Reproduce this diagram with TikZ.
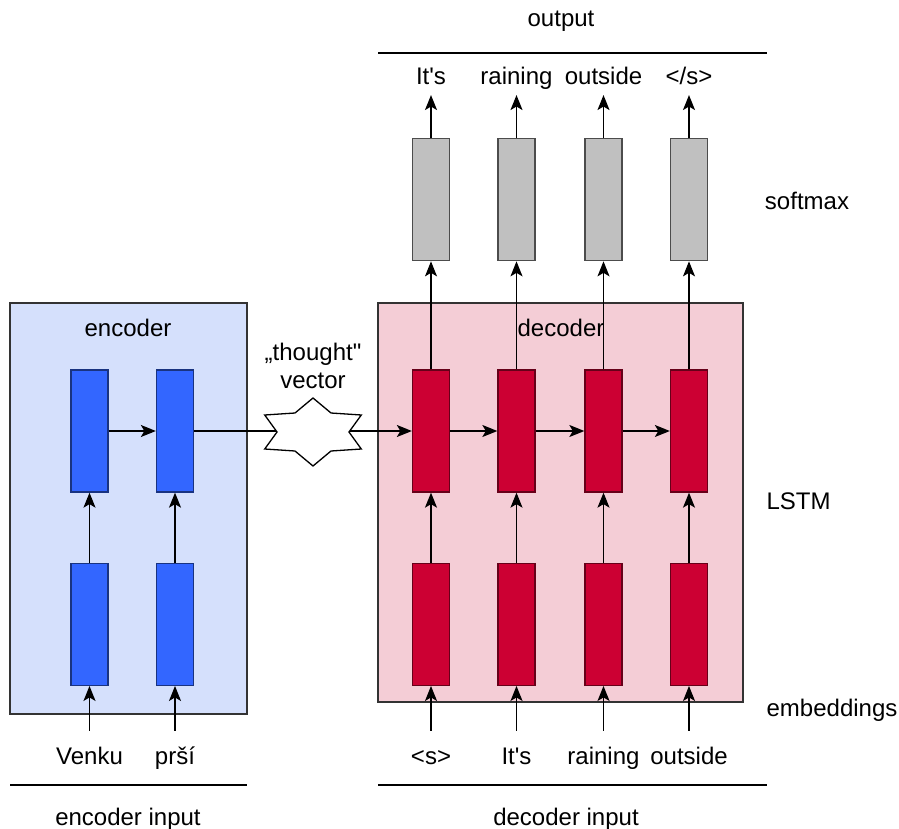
\documentclass[tikz,border=0pt]{standalone}
\usepackage{fontspec}
\setmainfont{Liberation Sans}
\usetikzlibrary{positioning}
\usetikzlibrary{shapes.geometric,arrows.meta}
\definecolor{encfill}{RGB}{213,224,252}
\definecolor{decfill}{RGB}{244,205,214}
\definecolor{encblue}{RGB}{51,102,255}
\definecolor{decred}{RGB}{204,0,51}
\definecolor{softgray}{RGB}{192,192,192}

\begin{document}
\begin{tikzpicture}[x=1pt, y=-1pt, line width=1.3pt,
	font=\fontsize{24}{28}\selectfont,
	flow/.style = {-{Stealth[length=15pt,width=12pt,inset=3.5pt]}},
	panel/.style = {draw=black!80, fill=#1, inner sep=0},
	block/.style = {draw, inner sep=0, minimum width=37pt, minimum height=122pt},
	encblock/.style = {block, draw=encblue!50!black, fill=encblue},
	decblock/.style = {block, draw=decred!50!black, fill=decred},
	softblock/.style = {block, draw=black!70, fill=softgray},
	txt/.style = {anchor=base, inner sep=0},
	inword/.style = {text height=17pt, text depth=5pt, inner xsep=0, inner ysep=16pt},
	outword/.style = {text height=17pt, text depth=5pt, inner xsep=0, inner ysep=5pt},
	rule/.style = {line width=1.6pt}]
	\useasboundingbox (0,0) rectangle (899,829);
	% panels
	\node[panel=encfill, minimum width=237pt, minimum height=411pt] (encpanel) at (128.5,508.5) {};
	\node[panel=decfill, minimum width=365pt, minimum height=399pt] (decpanel) at (560.5,502.5) {};
	\node[txt] (enctitle) at (128,336) {encoder};
	\node[txt] (dectitle) at (561,336) {decoder};
	% encoder
	\node[encblock] (e1) at (89.5,431) {};
	\node[encblock] (e2) at (175,431) {};
	\node[encblock] (x1) [below=70pt of e1] {};
	\node[encblock] (x2) [below=70pt of e2] {};
	\node[inword] (v1) [below=45pt of x1] {Venku};
	\node[inword] (v2) [below=45pt of x2] {prší};
	% decoder
	\node[decblock] (d1) at (431,431) {};
	\node[decblock] (d2) at (516.5,431) {};
	\node[decblock] (d3) at (603.5,431) {};
	\node[decblock] (d4) at (689,431) {};
	\node[decblock] (y1) [below=70pt of d1] {};
	\node[decblock] (y2) [below=70pt of d2] {};
	\node[decblock] (y3) [below=70pt of d3] {};
	\node[decblock] (y4) [below=70pt of d4] {};
	\node[softblock] (s1) [above=108pt of d1] {};
	\node[softblock] (s2) [above=108pt of d2] {};
	\node[softblock] (s3) [above=108pt of d3] {};
	\node[softblock] (s4) [above=108pt of d4] {};
	\node[inword] (i1) [below=45pt of y1] {<s>};
	\node[inword] (i2) [below=45pt of y2] {It\textquotesingle s};
	\node[inword] (i3) [below=45pt of y3] {raining};
	\node[inword] (i4) [below=45pt of y4] {outside};
	\node[outword] (o1) [above=43pt of s1] {It\textquotesingle s};
	\node[outword] (o2) [above=43pt of s2] {raining};
	\node[outword] (o3) [above=43pt of s3] {outside};
	\node[outword] (o4) [above=43pt of s4] {</s>};
	% side labels
	\node[txt] (outlbl) at (561,27) {output};
	\node[txt] (softlbl) at (807,210) {softmax};
	\node[txt] (lstmlbl) at (798.5,509) {LSTM};
	\node[txt] (emblbl) at (832,716) {embeddings};
	\node[txt] (encin) at (128,825) {encoder input};
	\node[txt] (decin) at (566,825) {decoder input};
	\node[align=center, inner sep=0] (thoughtlbl) at (313,366) {„thought\textquotedbl\\vector};
	\draw[rule] (378,53) -- (767,53);
	\draw[rule] (378,785) -- (767,785);
	\draw[rule] (10,785) -- (247,785);
	% connectors
	\draw[flow] (v1) -- (x1);
	\draw[flow] (v2) -- (x2);
	\draw[flow] (x1) -- (e1);
	\draw[flow] (x2) -- (e2);
	\draw[flow] (e1) -- (e2);
	\draw[flow] (e2) -- (d1);
	\node[star, star points=6, star point ratio=1.55, minimum size=68pt, inner sep=0,
		draw, fill=white, xscale=1.64, transform shape] (thought) at (313,432) {};
	\draw[flow] (d1) -- (d2);
	\draw[flow] (d2) -- (d3);
	\draw[flow] (d3) -- (d4);
	\draw[flow] (i1) -- (y1);
	\draw[flow] (i2) -- (y2);
	\draw[flow] (i3) -- (y3);
	\draw[flow] (i4) -- (y4);
	\draw[flow] (y1) -- (d1);
	\draw[flow] (y2) -- (d2);
	\draw[flow] (y3) -- (d3);
	\draw[flow] (y4) -- (d4);
	\draw[flow] (d1) -- (s1);
	\draw[flow] (d2) -- (s2);
	\draw[flow] (d3) -- (s3);
	\draw[flow] (d4) -- (s4);
	\draw[flow] (s1) -- (o1);
	\draw[flow] (s2) -- (o2);
	\draw[flow] (s3) -- (o3);
	\draw[flow] (s4) -- (o4);
\end{tikzpicture}
\end{document}
